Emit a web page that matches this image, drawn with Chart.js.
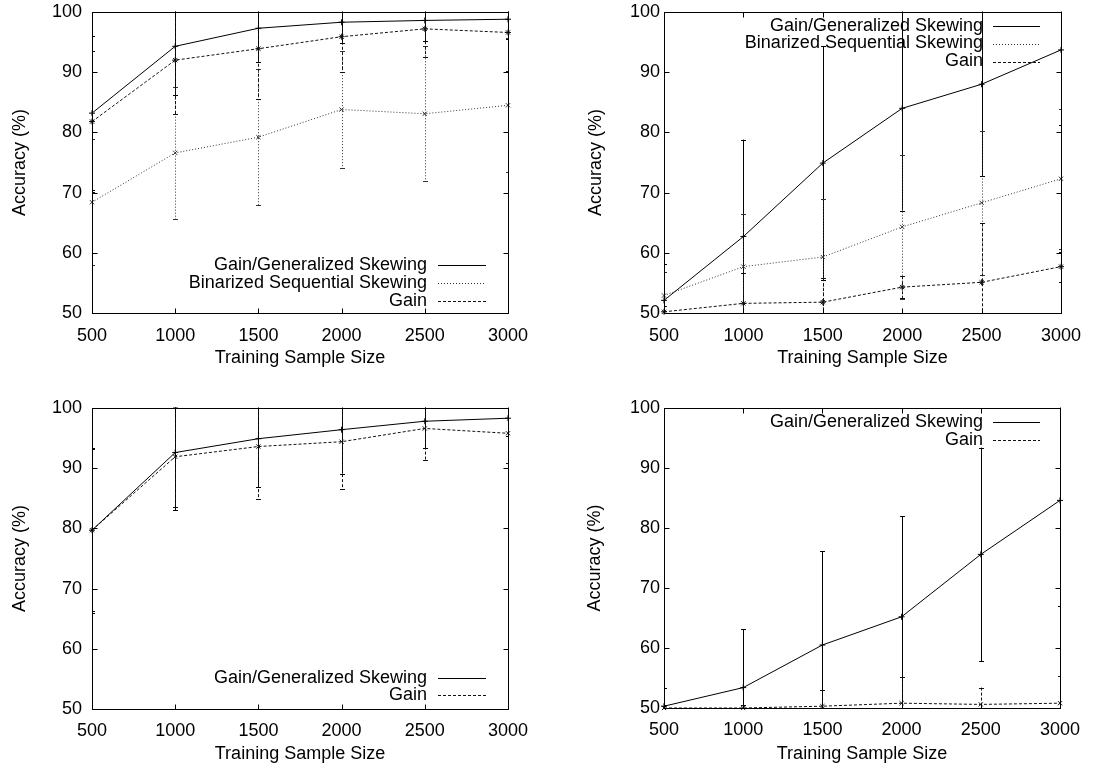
<!DOCTYPE html>
<html><head><meta charset="utf-8">
<script src="https://cdn.jsdelivr.net/npm/chart.js@4.4.0/dist/chart.umd.min.js"></script>
<style>
html,body{margin:0;padding:0;background:#fff;}
body{width:1107px;height:766px;position:relative;overflow:hidden;}
canvas{position:absolute;}
</style></head><body>
<canvas id="c1" width="553" height="383" style="left:0;top:0"></canvas>
<canvas id="c2" width="554" height="383" style="left:553px;top:0"></canvas>
<canvas id="c3" width="553" height="383" style="left:0;top:383px"></canvas>
<canvas id="c4" width="554" height="383" style="left:553px;top:383px"></canvas>
<script>
// ---- data ----
const sampleSizes = [500, 1000, 1500, 2000, 2500, 3000];
const seriesNames = ["Gain/Generalized Skewing", "Binarized Sequential Skewing", "Gain"];
const xTitle = "Training Sample Size";
const yTitle = "Accuracy (%)";

// top-left
const tlGenSkew    = [83.2, 94.3, 97.3, 98.3, 98.6, 98.8];
const tlGenSkewErr = [12.8, 8.1, 5.6, 3.4, 3.5, 3.3];
const tlBinSeq     = [68.4, 76.6, 79.2, 83.8, 83.1, 84.5];
const tlBinSeqErr  = [10.5, 11.0, 11.3, 9.7, 11.2, 11.1];
const tlGain       = [81.8, 92.0, 93.9, 95.9, 97.2, 96.6];
const tlGainErr    = [11.7, 9.0, 8.3, 5.8, 4.6, 6.4];

// top-right
const trGenSkew    = [52.1, 62.7, 74.9, 84.0, 88.0, 93.7];
const trGenSkewErr = [6.1, 16.1, 19.4, 17.0, 15.3, 12.5];
const trBinSeq     = [52.9, 57.7, 59.3, 64.3, 68.3, 72.3];
const trBinSeqErr  = [3.9, 8.8, 9.6, 12.0, 12.0, 11.6];
const trGain       = [50.2, 51.6, 51.8, 54.3, 55.1, 57.7];
const trGainErr    = [1.0, 5.0, 4.0, 1.8, 9.8, 2.5];

// bottom-left
const blGenSkew    = [79.7, 92.6, 94.9, 96.4, 97.8, 98.3];
const blGenSkewErr = [13.7, 9.6, 8.0, 7.3, 4.4, 3.0];
const blGain       = [79.7, 91.9, 93.6, 94.4, 96.6, 95.8];
const blGainErr    = [13.5, 8.3, 8.7, 7.9, 5.3, 5.0];

// bottom-right
const brGenSkew    = [50.3, 53.4, 60.5, 65.2, 75.6, 84.6];
const brGenSkewErr = [3.1, 9.7, 15.6, 16.8, 17.8, 17.6];
const brGain       = [50.0, 50.0, 50.3, 50.8, 50.6, 50.8];
const brGainErr    = [0.5, 0.5, 2.7, 4.4, 2.8, 4.6];

// ---- styles ----
const FONT = {family: "'Liberation Sans', Arial, Helvetica, sans-serif", size: 18};
const STYLE = {
  solid:  {borderColor: '#000', borderDash: [], pointStyle: 'cross', pointRadius: 3},
  dotted: {borderColor: '#333', borderDash: [1, 2], pointStyle: 'crossRot', pointRadius: 3},
  dashed: {borderColor: '#111', borderDash: [3, 2], pointStyle: 'star', pointRadius: 3},
  dashedX:{borderColor: '#111', borderDash: [3, 2], pointStyle: 'crossRot', pointRadius: 3}
};

function mkDataset(label, vals, errs, st) {
  return {
    label: label,
    data: sampleSizes.map((s, i) => ({x: s, y: vals[i]})),
    errors: errs,
    borderColor: st.borderColor,
    backgroundColor: st.borderColor,
    pointBorderColor: st.borderColor,
    borderDash: st.borderDash,
    borderWidth: 1,
    pointStyle: st.pointStyle,
    pointRadius: st.pointRadius,
    pointBorderWidth: 1,
    tension: 0,
    fill: false,
    clip: false
  };
}

// ---- plugins ----
const errorBarPlugin = {
  id: 'errBars',
  beforeDatasetsDraw(chart) {
    const {ctx, chartArea: a, scales: {x, y}} = chart;
    ctx.save();
    ctx.beginPath();
    ctx.rect(a.left, a.top - 0.5, a.right - a.left + 1, a.bottom - a.top + 1);
    ctx.clip();
    chart.data.datasets.forEach(ds => {
      if (!ds.errors) return;
      ctx.strokeStyle = ds.borderColor;
      ctx.lineWidth = 1;
      ds.data.forEach((p, i) => {
        const e = ds.errors[i];
        const px = Math.round(x.getPixelForValue(p.x)) + 0.5;
        const y1 = y.getPixelForValue(p.y + e);
        const y2 = y.getPixelForValue(p.y - e);
        ctx.setLineDash(ds.borderDash || []);
        ctx.beginPath();
        ctx.moveTo(px, y1); ctx.lineTo(px, y2);
        ctx.stroke();
        ctx.setLineDash([]);
        ctx.beginPath();
        ctx.moveTo(px - 2.5, Math.round(y1) + 0.5); ctx.lineTo(px + 2.5, Math.round(y1) + 0.5);
        ctx.moveTo(px - 2.5, Math.round(y2) + 0.5); ctx.lineTo(px + 2.5, Math.round(y2) + 0.5);
        ctx.stroke();
      });
    });
    ctx.restore();
  }
};

const framePlugin = {
  id: 'gnuFrame',
  afterDatasetsDraw(chart) {
    const {ctx, chartArea: a, scales: {x, y}} = chart;
    const L = Math.round(a.left) + 0.5, R = Math.round(a.right) + 0.5;
    const T = Math.round(a.top) + 0.5, B = Math.round(a.bottom) + 0.5;
    ctx.save();
    ctx.strokeStyle = '#000';
    ctx.lineWidth = 1;
    ctx.setLineDash([]);
    ctx.strokeRect(L, T, R - L, B - T);
    const len = 5;
    ctx.beginPath();
    x.ticks.forEach(t => {
      const px = Math.round(x.getPixelForValue(t.value)) + 0.5;
      ctx.moveTo(px, B); ctx.lineTo(px, B - len);
      ctx.moveTo(px, T); ctx.lineTo(px, T + len);
    });
    y.ticks.forEach(t => {
      const py = Math.round(y.getPixelForValue(t.value)) + 0.5;
      ctx.moveTo(L, py); ctx.lineTo(L + len, py);
      ctx.moveTo(R, py); ctx.lineTo(R - len, py);
    });
    ctx.stroke();
    ctx.restore();
  }
};

const keyPlugin = {
  id: 'gnuKey',
  afterDraw(chart) {
    const k = chart.config.options.gnuKeyCfg;
    if (!k) return;
    const {ctx, chartArea: a} = chart;
    ctx.save();
    ctx.font = FONT.size + 'px ' + FONT.family;
    ctx.textAlign = 'right';
    ctx.textBaseline = 'middle';
    ctx.fillStyle = '#000';
    chart.data.datasets.forEach((ds, i) => {
      const yy = (k.anchor === 'top' ? a.top : a.bottom) + k.rows[i];
      ctx.fillText(ds.label, a.right + k.textRight, yy);
      const ly = Math.round(yy) + 0.5;
      ctx.strokeStyle = ds.borderColor;
      ctx.lineWidth = 1;
      ctx.setLineDash(ds.borderDash || []);
      ctx.beginPath();
      ctx.moveTo(a.right + k.lineStart, ly);
      ctx.lineTo(a.right + k.lineEnd, ly);
      ctx.stroke();
    });
    ctx.restore();
  }
};

function makePanel(id, datasets, p) {
  new Chart(document.getElementById(id), {
    type: 'line',
    data: {datasets: datasets},
    plugins: [errorBarPlugin, framePlugin, keyPlugin],
    options: {
      responsive: false,
      animation: false,
      events: [],
      gnuKeyCfg: p.key,
      layout: {padding: {top: p.padTop, right: p.padRight, left: 0, bottom: 0}},
      plugins: {legend: {display: false}, tooltip: {enabled: false}},
      scales: {
        x: {
          type: 'linear', min: 500, max: 3000,
          ticks: {stepSize: 500, padding: p.xTickPad, font: FONT, color: '#000', maxRotation: 0, autoSkip: false,
                  callback: v => String(v)},
          grid: {display: false, drawTicks: false},
          border: {display: false},
          title: {display: true, text: xTitle, font: FONT, color: '#000', padding: {top: 0, bottom: p.xTitlePad}},
          afterFit(s) { s.height = p.xHeight; s.paddingLeft = 0; s.paddingRight = 0; }
        },
        y: {
          type: 'linear', min: 50, max: 100,
          ticks: {stepSize: 10, padding: p.yTickPad, font: FONT, color: '#000', callback: v => String(v)},
          grid: {display: false, drawTicks: false},
          border: {display: false},
          title: {display: true, text: yTitle, font: FONT, color: '#000', padding: {top: p.yTitlePad, bottom: 0}},
          afterFit(s) { s.width = p.yWidth; s.paddingTop = 0; s.paddingBottom = 0; }
        }
      }
    }
  });
}

makePanel('c1', [
  mkDataset(seriesNames[0], tlGenSkew, tlGenSkewErr, STYLE.solid),
  mkDataset(seriesNames[1], tlBinSeq, tlBinSeqErr, STYLE.dotted),
  mkDataset(seriesNames[2], tlGain, tlGainErr, STYLE.dashed)
], {padTop: 12, padRight: 45, xHeight: 70, yWidth: 92, yTickPad: 10, xTickPad: 12, yTitlePad: 9, xTitlePad: 14,
    key: {anchor: 'bottom', rows: [-48, -30, -12], textRight: -81, lineStart: -70, lineEnd: -22}});

makePanel('c2', [
  mkDataset(seriesNames[0], trGenSkew, trGenSkewErr, STYLE.solid),
  mkDataset(seriesNames[1], trBinSeq, trBinSeqErr, STYLE.dotted),
  mkDataset(seriesNames[2], trGain, trGainErr, STYLE.dashed)
], {padTop: 12, padRight: 46, xHeight: 70, yWidth: 111, yTickPad: 4, xTickPad: 12, yTitlePad: 32, xTitlePad: 14,
    key: {anchor: 'top', rows: [14, 31.5, 49.5], textRight: -78, lineStart: -68, lineEnd: -21}});

makePanel('c3', [
  mkDataset(seriesNames[0], blGenSkew, blGenSkewErr, STYLE.solid),
  mkDataset(seriesNames[2], blGain, blGainErr, STYLE.dashedX)
], {padTop: 25, padRight: 45, xHeight: 57, yWidth: 92, yTickPad: 10, xTickPad: 11, yTitlePad: 9, xTitlePad: 1,
    key: {anchor: 'bottom', rows: [-31, -14], textRight: -81, lineStart: -70, lineEnd: -22}});

makePanel('c4', [
  mkDataset(seriesNames[0], brGenSkew, brGenSkewErr, STYLE.solid),
  mkDataset(seriesNames[2], brGain, brGainErr, STYLE.dashedX)
], {padTop: 25, padRight: 47, xHeight: 58, yWidth: 111, yTickPad: 4, xTickPad: 11, yTitlePad: 31, xTitlePad: 1,
    key: {anchor: 'top', rows: [14, 32], textRight: -77, lineStart: -67, lineEnd: -20}});
</script>
</body></html>
